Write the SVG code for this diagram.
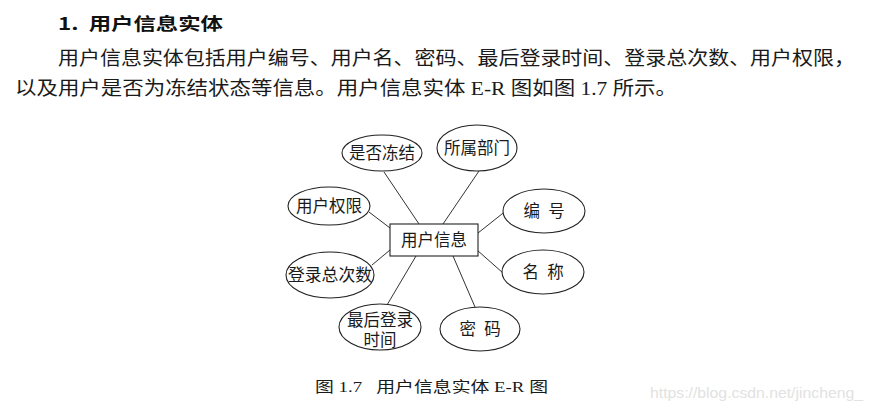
<svg xmlns="http://www.w3.org/2000/svg" width="873" height="413" viewBox="0 0 873 413">
<style>
.bg{fill:#ffffff}
.cn{font-family:"Liberation Serif","Noto Sans CJK SC",serif;fill:#1a1a1a}
.hd{font-family:"Noto Sans CJK SC",sans-serif;fill:#111;font-size:17px;font-weight:600}
.lbl{font-family:"Liberation Serif","Noto Sans CJK SC",serif;font-size:16.5px;fill:#1a1a1a;text-anchor:middle}
.shape{fill:#ffffff;stroke:#222;stroke-width:1.1}
.conn line{stroke:#333;stroke-width:1}
.wm{font-family:"Liberation Sans",sans-serif;font-size:14px;fill:#e2e2e2}
</style>
<rect class="bg" x="0" y="0" width="873" height="413"/>
<text class="hd" x="58" y="30" textLength="165" lengthAdjust="spacingAndGlyphs" xml:space="preserve">1.  用户信息实体</text>
<text class="cn" x="58" y="65" font-size="19" textLength="797" lengthAdjust="spacingAndGlyphs">用户信息实体包括用户编号、用户名、密码、最后登录时间、登录总次数、用户权限，</text>
<text class="cn" x="15" y="95" font-size="19" textLength="662" lengthAdjust="spacingAndGlyphs">以及用户是否为冻结状态等信息。用户信息实体 E-R 图如图 1.7 所示。</text>

<g id="connectors" class="conn">
<line x1="384" y1="172" x2="419" y2="224"/>
<line x1="479" y1="171" x2="443" y2="224"/>
<line x1="369" y1="212" x2="390" y2="228"/>
<line x1="507" y1="210" x2="478" y2="233"/>
<line x1="372" y1="265" x2="390" y2="250"/>
<line x1="387" y1="305" x2="416" y2="256"/>
<line x1="475" y1="307" x2="453" y2="256"/>
<line x1="503" y1="273" x2="477" y2="250"/>
</g>

<g id="entity">
<rect class="shape" x="390" y="224" width="88" height="32"/>
<text class="lbl" x="434" y="246">用户信息</text>
</g>
<g id="attr-frozen">
<ellipse class="shape" cx="382" cy="153" rx="40" ry="18"/>
<text class="lbl" x="382" y="159">是否冻结</text>
</g>
<g id="attr-dept">
<ellipse class="shape" cx="477" cy="148" rx="40" ry="23"/>
<text class="lbl" x="477" y="154">所属部门</text>
</g>
<g id="attr-perm">
<ellipse class="shape" cx="329" cy="206" rx="41" ry="19"/>
<text class="lbl" x="329" y="212">用户权限</text>
</g>
<g id="attr-id">
<ellipse class="shape" cx="544" cy="211" rx="41" ry="22"/>
<text class="lbl" x="544" y="217" xml:space="preserve">编  号</text>
</g>
<g id="attr-count">
<ellipse class="shape" cx="330" cy="275" rx="44" ry="23"/>
<text class="lbl" x="330" y="281" textLength="84" lengthAdjust="spacingAndGlyphs">登录总次数</text>
</g>
<g id="attr-name">
<ellipse class="shape" cx="543" cy="272" rx="41" ry="22"/>
<text class="lbl" x="543" y="278" xml:space="preserve">名  称</text>
</g>
<g id="attr-lasttime">
<ellipse class="shape" cx="380" cy="327" rx="41" ry="23"/>
<text class="lbl" x="380" y="326">最后登录</text>
<text class="lbl" x="380" y="346">时间</text>
</g>
<g id="attr-pwd">
<ellipse class="shape" cx="480" cy="329" rx="40" ry="22"/>
<text class="lbl" x="480" y="335" xml:space="preserve">密  码</text>
</g>

<text class="cn" x="315" y="392" font-size="15" textLength="233" lengthAdjust="spacingAndGlyphs" xml:space="preserve">图 1.7   用户信息实体 E-R 图</text>
<text class="wm" x="650" y="398" textLength="213" lengthAdjust="spacingAndGlyphs">https://blog.csdn.net/jincheng_</text>
</svg>
